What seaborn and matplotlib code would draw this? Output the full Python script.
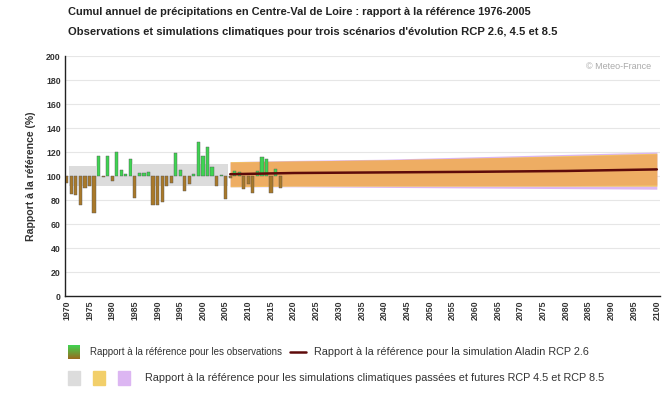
import numpy as np
import pandas as pd
import matplotlib
matplotlib.use("Agg")
import matplotlib.pyplot as plt
from matplotlib.patches import Rectangle
from matplotlib.lines import Line2D
import seaborn as sns

# Observed annual precipitation, ratio to the 1976-2005 reference (%)
obs_years = list(range(1970, 2018))
obs_ratio = [94, 85, 84, 76, 90, 92, 69.5, 117, 99, 117,
             96, 120, 105, 102, 114, 82, 102.5, 102.5, 103, 75.5,
             76, 78, 92, 94, 119.5, 105, 87.5, 93.5, 102, 128,
             117, 124.5, 107.5, 92, 101, 80.5, 98.5, 104, 103.5, 89.5,
             93, 86, 104.5, 116, 114.5, 86, 105.5, 90]

# Envelope of the historical simulations
hist_years = [1970.5, 1976.5, 1976.5, 1984.5, 1984.5, 2005.5]
hist_low = [92, 92, 92, 92, 92, 92]
hist_high = [108, 108, 100, 100, 110, 110]

# Envelopes of the future simulations
fut_years = [2006, 2020, 2040, 2060, 2080, 2100]
rcp85_low = [91, 91, 90.5, 90, 89.5, 89]
rcp85_high = [112, 113, 114, 116, 118, 120]
rcp45_low = [91, 91.5, 91.5, 91.5, 91.5, 91.5]
rcp45_high = [112, 112.5, 113.5, 115, 117, 119]
rcp26_low = [91.5, 92, 92, 92, 92, 92.5]
rcp26_high = [111.5, 112.5, 113.5, 115, 116.5, 118.5]

# Aladin RCP 2.6 simulation (smoothed)
sim_years = [2006, 2020, 2040, 2060, 2080, 2100]
sim_ratio = [101.5, 102.5, 103, 103.5, 104.2, 105.5]

title_1 = "Cumul annuel de précipitations en Centre-Val de Loire : rapport à la référence 1976-2005"
title_2 = "Observations et simulations climatiques pour trois scénarios d'évolution RCP 2.6, 4.5 et 8.5"
y_label = "Rapport à la référence (%)"
x_ticks = list(range(1970, 2101, 5))
y_ticks = list(range(0, 201, 20))

sns.set_theme(style="white")
plt.rcParams["font.family"] = ["Liberation Sans", "DejaVu Sans"]

fig = plt.figure(figsize=(6.68, 3.93), dpi=100)
ax = fig.add_axes([65 / 668, 1 - 296 / 393, 595 / 668, 240 / 393])

# horizontal grid
for v in y_ticks[1:]:
    ax.axhline(v, color="#e6e6e6", lw=0.8, zorder=0)

# simulation envelopes
ax.fill_between(hist_years, hist_low, hist_high, color="#dcdcdc", lw=0, zorder=1)
ax.fill_between(fut_years, rcp85_low, rcp85_high, color="#dcb6f2", lw=0, zorder=1)
ax.fill_between(fut_years, rcp45_low, rcp45_high, color="#f2cf6a", lw=0, zorder=1.1)
ax.fill_between(fut_years, rcp26_low, rcp26_high, color="#ec8c5e", alpha=0.5, lw=0, zorder=1.2)

# observation bars, drawn from the 100 % baseline
df = pd.DataFrame({"year": obs_years, "ratio": obs_ratio})
df["delta"] = df["ratio"] - 100
colors = ["#3fd452" if d > 0 else "#a9792a" for d in df["delta"]]
ax.bar(df["year"], df["delta"], bottom=100, width=0.7, color=colors,
       edgecolor="#555555", linewidth=0.3, zorder=2)

# simulated ratio
sim = pd.DataFrame({"year": sim_years, "ratio": sim_ratio})
sns.lineplot(data=sim, x="year", y="ratio", ax=ax, color="#5e0a0a", lw=1.8, zorder=3)

ax.set_xlim(1969.6, 2100.7)
ax.set_ylim(0, 200)
ax.set_xticks(x_ticks)
ax.set_xticklabels([str(t) for t in x_ticks], rotation=90, fontsize=6.3, fontweight="bold", color="#333333")
ax.set_yticks(y_ticks)
ax.set_yticklabels([str(t) for t in y_ticks], fontsize=6.3, fontweight="bold", color="#333333")
ax.tick_params(axis="both", length=0, pad=3)
ax.set_xlabel("")
ax.set_ylabel(y_label, fontsize=7.6, fontweight="bold", color="#333333", labelpad=7)
for side in ["top", "right"]:
    ax.spines[side].set_visible(False)
for side in ["left", "bottom"]:
    ax.spines[side].set_color("#222222")
    ax.spines[side].set_linewidth(1.0)

ax.text(0.93, 0.958, "© Meteo-France", transform=ax.transAxes, ha="center", va="center",
        fontsize=6.5, color="#aaaaaa")

fig.text(68 / 668, 1 - 12 / 393, title_1, fontsize=7.9, fontweight="bold", color="#222222", va="center")
fig.text(68 / 668, 1 - 32 / 393, title_2, fontsize=8.1, fontweight="bold", color="#222222", va="center")

# legend, first row
sw = fig.add_axes([68 / 668, 1 - 359 / 393, 12 / 668, 14 / 393])
grad = np.linspace(0, 1, 50).reshape(-1, 1)
cmap = matplotlib.colors.LinearSegmentedColormap.from_list("obs", ["#3fd452", "#9a6a1c"])
sw.imshow(grad, aspect="auto", cmap=cmap)
sw.axis("off")
fig.text(90 / 668, 1 - 352 / 393, "Rapport à la référence pour les observations",
         fontsize=7.0, color="#333333", va="center")
fig.add_artist(Line2D([290 / 668, 306 / 668], [1 - 352 / 393, 1 - 352 / 393],
                      color="#5e0a0a", lw=1.8, transform=fig.transFigure))
fig.text(314 / 668, 1 - 352 / 393, "Rapport à la référence pour la simulation Aladin RCP 2.6",
         fontsize=7.8, color="#333333", va="center")

# legend, second row
for x0, c in [(68, "#dcdcdc"), (93, "#f2cf6a"), (118, "#dcb6f2")]:
    fig.add_artist(Rectangle((x0 / 668, 1 - 385 / 393), 12 / 668, 14 / 393,
                             color=c, transform=fig.transFigure))
fig.text(145 / 668, 1 - 378 / 393,
         "Rapport à la référence pour les simulations climatiques passées et futures RCP 4.5 et RCP 8.5",
         fontsize=7.8, color="#333333", va="center")

fig.savefig("out.png", dpi=100)
